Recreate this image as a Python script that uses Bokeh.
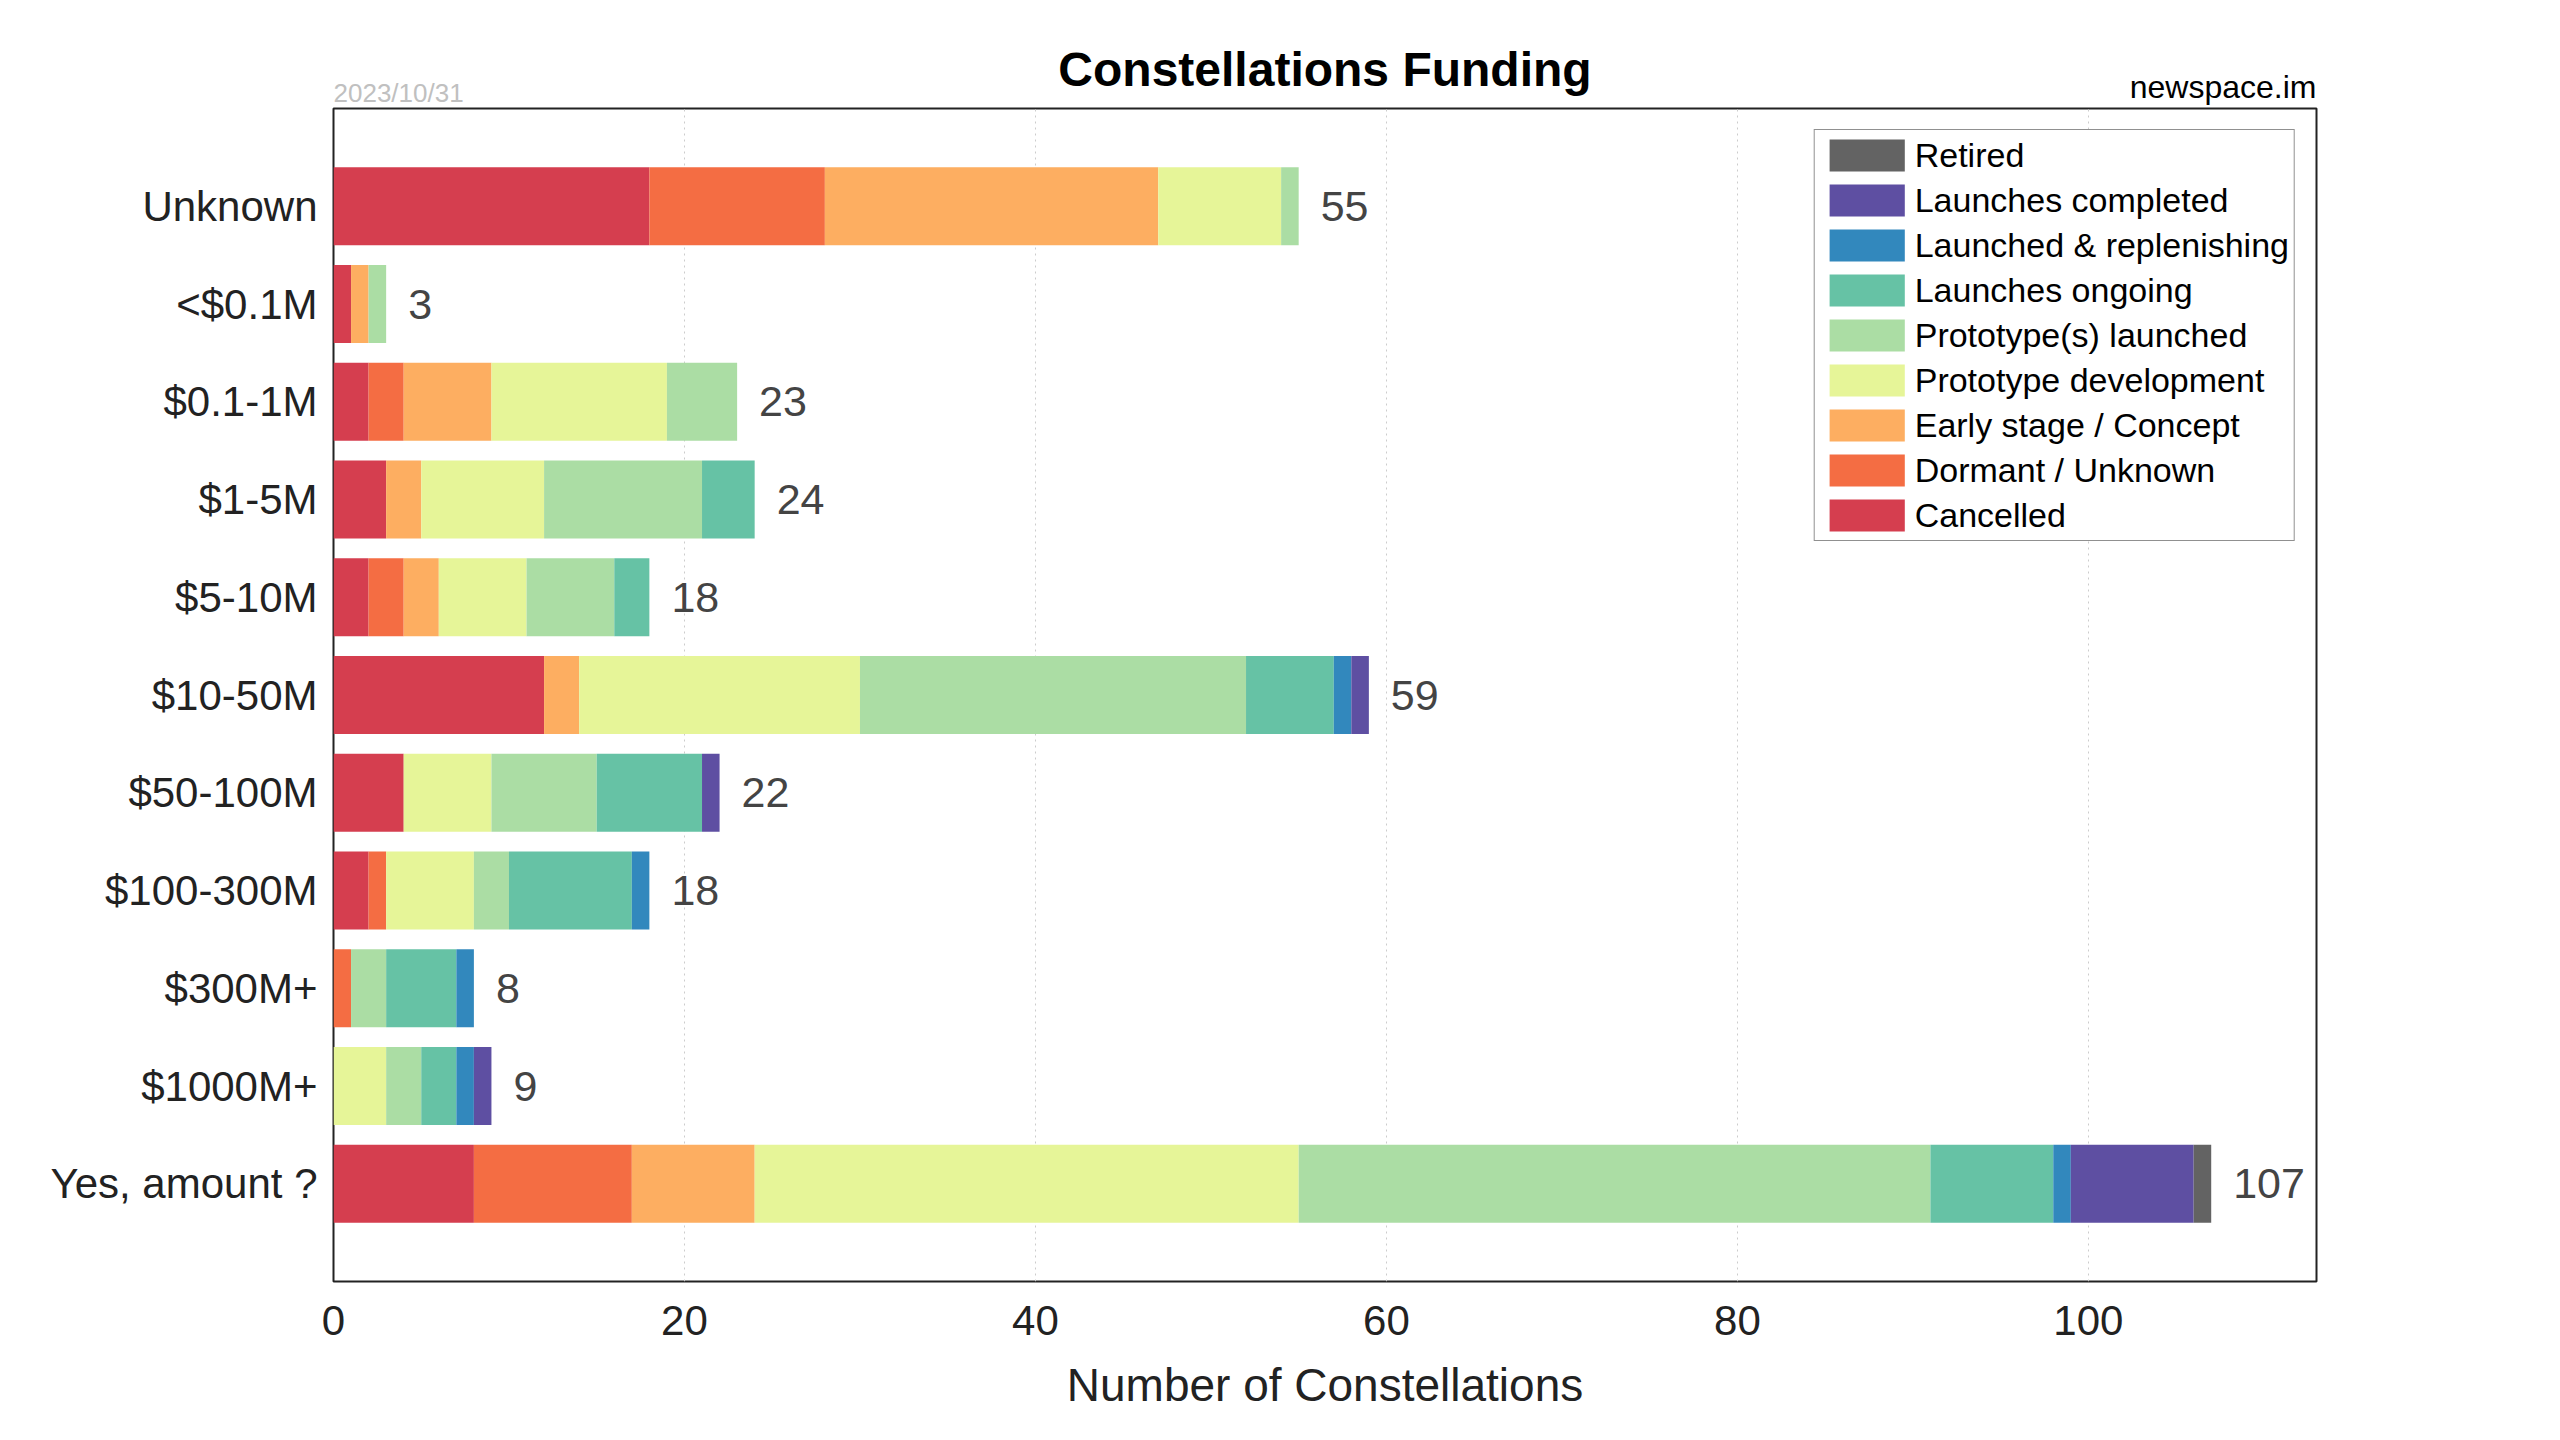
from bokeh.plotting import figure
from bokeh.models import (ColumnDataSource, Range1d, FixedTicker, Legend, LegendItem,
                          Title)
from bokeh.core.properties import value
from bokeh.embed import file_html
from bokeh.resources import INLINE

FONT = "Liberation Sans"

categories = ["Unknown", "<$0.1M", "$0.1-1M", "$1-5M", "$5-10M", "$10-50M",
              "$50-100M", "$100-300M", "$300M+", "$1000M+", "Yes, amount ?"]

statuses = ["Cancelled", "Dormant / Unknown", "Early stage / Concept",
            "Prototype development", "Prototype(s) launched", "Launches ongoing",
            "Launched & replenishing", "Launches completed", "Retired"]

colors = ["#d53e4f", "#f46d43", "#fdae61", "#e6f598", "#abdda4", "#66c2a5",
          "#3288bd", "#5e4fa2", "#636363"]

cancelled     = [18, 1, 2, 3, 2, 12, 4, 2, 0, 0, 8]
dormant       = [10, 0, 2, 0, 2, 0, 0, 1, 1, 0, 9]
early         = [19, 1, 5, 2, 2, 2, 0, 0, 0, 0, 7]
proto_dev     = [7, 0, 10, 7, 5, 16, 5, 5, 0, 3, 31]
proto_launch  = [1, 1, 4, 9, 5, 22, 6, 2, 2, 2, 36]
ongoing       = [0, 0, 0, 3, 2, 5, 6, 7, 4, 2, 7]
replenishing  = [0, 0, 0, 0, 0, 1, 0, 1, 1, 1, 1]
completed     = [0, 0, 0, 0, 0, 1, 1, 0, 0, 1, 7]
retired       = [0, 0, 0, 0, 0, 0, 0, 0, 0, 0, 1]

series = [cancelled, dormant, early, proto_dev, proto_launch, ongoing,
          replenishing, completed, retired]
keys = ["s%d" % i for i in range(len(series))]

n = len(categories)
ypos = [n - 1 - i for i in range(n)]
totals = [sum(s[i] for s in series) for i in range(n)]

data = {"y": ypos, "total": totals, "total_str": [str(t) for t in totals]}
for k, s in zip(keys, series):
    data[k] = s
source = ColumnDataSource(data)

X_END = 113
p = figure(width=2560, height=1440, output_backend="svg", toolbar_location=None,
           x_range=Range1d(0, X_END), y_range=Range1d(-1, n), title=None,
           min_border_left=333, min_border_right=244, min_border_top=108,
           min_border_bottom=159)

renderers = p.hbar_stack(keys, y="y", height=0.8, color=colors, source=source,
                         line_width=0)

p.text(x="total", y="y", text="total_str", source=source, x_offset=22,
       text_baseline="middle", text_align="left", text_font=value(FONT),
       text_font_size="43px", text_color="#444444")

# axes
p.yaxis.ticker = FixedTicker(ticks=ypos)
p.yaxis.major_label_overrides = {y: c for y, c in zip(ypos, categories)}
p.xaxis.ticker = FixedTicker(ticks=[0, 20, 40, 60, 80, 100])
for ax in (p.xaxis[0], p.yaxis[0]):
    ax.major_tick_line_color = None
    ax.minor_tick_line_color = None
    ax.axis_line_color = None
    ax.major_tick_out = 0
    ax.major_tick_in = 0
    ax.major_label_text_font = FONT
    ax.major_label_text_font_size = "42px"
    ax.major_label_text_color = "#222222"
p.yaxis.major_label_standoff = 16
p.xaxis.major_label_standoff = 24
p.xaxis.axis_label = "Number of Constellations"
p.xaxis.axis_label_text_font = FONT
p.xaxis.axis_label_text_font_size = "46px"
p.xaxis.axis_label_text_font_style = "normal"
p.xaxis.axis_label_text_color = "#222222"
p.xaxis.axis_label_standoff = 21

p.ygrid.grid_line_color = None
p.xgrid.grid_line_color = "#cccccc"
p.xgrid.grid_line_dash = "2 4"
p.xgrid.grid_line_width = 1

p.outline_line_color = "#222222"
p.outline_line_width = 2
p.background_fill_color = "white"
p.border_fill_color = "white"

# header texts: stacked titles (first added sits closest to the frame)
p.add_layout(Title(text="2023/10/31", align="left", text_font=FONT,
                   text_font_size="26px", text_font_style="normal",
                   text_color="#c0c0c0", standoff=1), "above")
p.add_layout(Title(text="newspace.im", align="right", text_font=FONT,
                   text_font_size="32px", text_font_style="normal",
                   text_color="#000000", standoff=-59), "above")
p.add_layout(Title(text="Constellations Funding", align="center", text_font=FONT,
                   text_font_size="48px", text_font_style="bold",
                   text_color="#000000", standoff=-40), "above")

items = [LegendItem(label=statuses[i], renderers=[renderers[i]])
         for i in reversed(range(len(statuses)))]
legend = Legend(items=items, location="top_right", label_text_font=FONT,
                label_text_font_size="34px", label_text_color="#000000",
                glyph_width=94, glyph_height=40, label_height=40,
                spacing=5, padding=5, margin=21, label_standoff=1,
                border_line_color="#222222", border_line_width=1.5,
                background_fill_alpha=1.0)
p.add_layout(legend, "center")

open("out.html", "w").write(file_html(p, INLINE))
